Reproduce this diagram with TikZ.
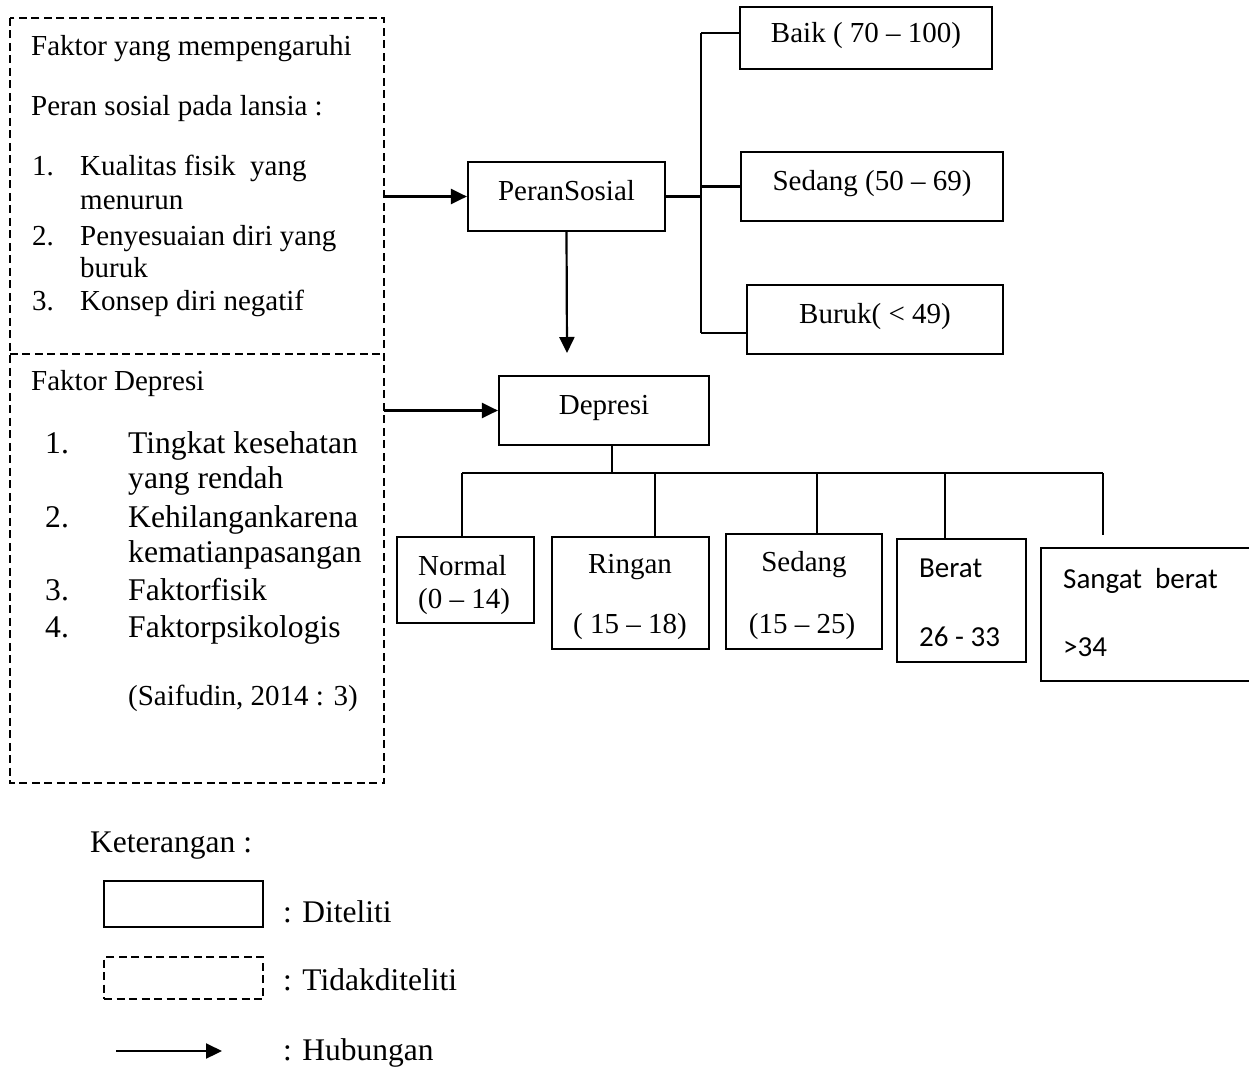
\documentclass[tikz,border=0pt]{standalone}
\usepackage{fontspec}
\setmainfont{Liberation Serif}
\newfontfamily\calib{Carlito}
\usetikzlibrary{arrows.meta}
\begin{document}
\begin{tikzpicture}[x=1pt,y=-1pt,
  conn/.style={line width=2.2pt},
  arr/.style={conn,-{Triangle[length=16pt,width=15pt]}},
  sbox/.style={draw,line width=2.2pt,inner sep=0pt},
  dbox/.style={draw,line width=1.6pt,dash pattern=on 8pt off 4.5pt,inner sep=0pt},
  area/.style={inner sep=0pt},
  lbl/.style={inner sep=0pt,anchor=base west,font=\fontsize{29}{34}\selectfont},
  lblc/.style={inner sep=0pt,anchor=base,font=\fontsize{29}{34}\selectfont},
  lblb/.style={inner sep=0pt,anchor=base west,font=\fontsize{31.6}{37}\selectfont},
  lblk/.style={inner sep=0pt,anchor=base west,font=\calib\fontsize{29}{34}\selectfont},
  lgd/.style={inner sep=0pt,anchor=base west,font=\fontsize{31.5}{37}\selectfont},
  inbox/.style={sbox,font=\fontsize{29}{34}\selectfont,text height=14pt,text depth=6pt}
]
\useasboundingbox (0,0) rectangle (1249,1068);

% dashed areas (not studied)
\node[area,minimum width=374,minimum height=336] (upbox) at (197,186) {};
\node[area,minimum width=374,minimum height=429] (lowbox) at (197,568.5) {};
\draw[line width=1.6pt,dash pattern=on 8pt off 4.5pt] (upbox.north west) rectangle (lowbox.south east);
\draw[line width=1.6pt,dash pattern=on 8pt off 4.5pt] (upbox.south west) -- (upbox.south east);

% upper box texts
\node[lbl] (u1) at (31,55) {Faktor yang mempengaruhi};
\node[lbl] (u2) at (31,115) {Peran sosial pada lansia :};
\node[lbl] (n1) at (32,175) {1.};
\node[lbl] (i1a) at (80,175) {Kualitas fisik~ yang};
\node[lbl] (i1b) at (80,209) {menurun};
\node[lbl] (n2) at (32,245) {2.};
\node[lbl] (i2a) at (80,245) {Penyesuaian diri yang};
\node[lbl] (i2b) at (80,277) {buruk};
\node[lbl] (n3) at (32,310) {3.};
\node[lbl] (i3a) at (80,310) {Konsep diri negatif};

% lower box texts
\node[lbl] (l1) at (31,390) {Faktor Depresi};
\node[lblb] (m1) at (45,453) {1.};
\node[lblb] (j1a) at (128,453) {Tingkat kesehatan};
\node[lblb] (j1b) at (128,488) {yang rendah};
\node[lblb] (m2) at (45,527) {2.};
\node[lblb] (j2a) at (128,527) {Kehilangankarena};
\node[lblb] (j2b) at (128,562) {kematianpasangan};
\node[lblb] (m3) at (45,600) {3.};
\node[lblb] (j3a) at (128,600) {Faktorfisik};
\node[lblb] (m4) at (45,637) {4.};
\node[lblb] (j4a) at (128,637) {Faktorpsikologis};
\node[lbl] (src) at (128,705) {(Saifudin, 2014 : 3)};

% Peran sosial branch
\node[inbox,minimum width=197,minimum height=69] (peran) at (566.5,196.5) {PeranSosial};
\node[inbox,minimum width=252,minimum height=62] (baik) at (866,38) {Baik ( 70 – 100)};
\node[inbox,minimum width=262,minimum height=69] (sedp) at (872,186.5) {Sedang (50 – 69)};
\node[inbox,minimum width=256,minimum height=69] (buruk) at (875,319.5) {Buruk( < 49)};

\coordinate (bt) at (701,33);
\coordinate (bs) at (701,186.5);
\coordinate (bb) at (701,333);
\coordinate (pdown) at (567,353);

\draw[arr] (upbox.east |- peran.west) -- (peran.west);
\draw[arr] (peran.south) -- (pdown);
\draw[conn] (peran.east) -- (peran.east -| bt);
\draw[conn] (bt) -- (bb);
\draw[conn] (bt) -- (bt -| baik.west);
\draw[conn] (bs) -- (bs -| sedp.west);
\draw[conn] (bb) -- (bb -| buruk.west);

% Depresi branch
\node[inbox,minimum width=210,minimum height=69] (dep) at (604,410.5) {Depresi};
\draw[arr] (lowbox.east |- dep.west) -- (dep.west);

\node[sbox,minimum width=137,minimum height=86] (normal) at (465.5,580) {};
\node[sbox,minimum width=157,minimum height=112] (ringan) at (630.5,593) {};
\node[sbox,minimum width=156,minimum height=115] (sedd) at (804,591.5) {};
\node[sbox,minimum width=129,minimum height=123] (berat) at (961.5,600.5) {};
\node[sbox,minimum width=211,minimum height=133] (sangat) at (1146.5,614.5) {};

\node[lblc] (tn1) at (462.5,575) {Normal};
\node[lblc] (tn2) at (464,608) {(0 – 14)};
\node[lblc] (tr1) at (630,573) {Ringan};
\node[lblc] (tr2) at (630,633) {( 15 – 18)};
\node[lblc] (ts1) at (804,571) {Sedang};
\node[lblc] (ts2) at (802,633) {(15 – 25)};
\node[lblk] (tb1) at (919,577) {Berat};
\node[lblk] (tb2) at (919,646) {26 - 33};
\node[lblk] (tg1) at (1063,588) {Sangat~ berat};
\node[lblk] (tg2) at (1063,656) {>34};

\coordinate (bus) at (612,473);
\coordinate (busL) at (462,473);
\coordinate (busR) at (1103,473);
\coordinate (d2) at (655,473);
\coordinate (d3) at (817,473);
\coordinate (d4) at (945,473);
\coordinate (dend) at (1103,535);

\draw[conn] (bus |- dep.south) -- (bus);
\draw[conn] (busL) -- (busR);
\draw[conn] (busL) -- (busL |- normal.north);
\draw[conn] (d2) -- (d2 |- ringan.north);
\draw[conn] (d3) -- (d3 |- sedd.north);
\draw[conn] (d4) -- (d4 |- berat.north);
\draw[conn] (busR) -- (dend);

% legend
\node[lgd] (ket) at (90,852) {Keterangan :};
\node[sbox,minimum width=159,minimum height=46] (legs) at (183.5,904) {};
\node[dbox,minimum width=159,minimum height=42] (legd) at (183.5,978) {};
\coordinate (la1) at (116,1051);
\coordinate (la2) at (222,1051);
\draw[arr] (la1) -- (la2);
\node[lgd] (k1) at (283,922) {: Diteliti};
\node[lgd] (k2) at (283,990) {: Tidakditeliti};
\node[lgd] (k3) at (283,1060) {: Hubungan};
\end{tikzpicture}
\end{document}
